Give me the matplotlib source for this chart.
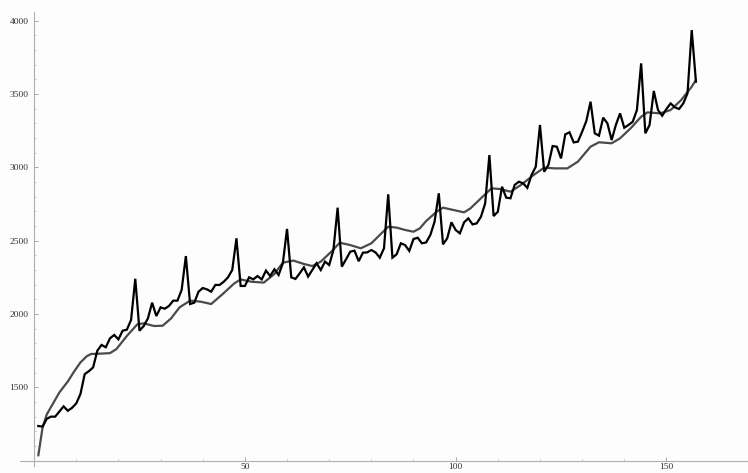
import matplotlib
matplotlib.use("Agg")
import matplotlib.pyplot as plt
from matplotlib.ticker import FixedLocator

# Monthly series (black), index 1..157
series_values = [
    1236, 1232, 1285, 1300, 1300, 1335, 1370, 1340, 1360, 1390, 1455, 1590,
    1610, 1636, 1750, 1789, 1773, 1834, 1857, 1827, 1886, 1893, 1959, 2240,
    1886, 1918, 1970, 2077, 1986, 2045, 2036, 2055, 2091, 2091, 2164, 2395,
    2068, 2077, 2152, 2177, 2168, 2152, 2198, 2198, 2220, 2250, 2300, 2516,
    2191, 2191, 2250, 2236, 2259, 2236, 2296, 2259, 2305, 2266, 2346, 2580,
    2250, 2239, 2277, 2318, 2255, 2300, 2346, 2300, 2357, 2334, 2436, 2725,
    2323, 2373, 2425, 2432, 2360, 2418, 2420, 2436, 2420, 2384, 2448, 2816,
    2384, 2407, 2482, 2470, 2430, 2511, 2520, 2482, 2488, 2539, 2630, 2823,
    2475, 2516, 2625, 2573, 2550, 2625, 2652, 2611, 2618, 2663, 2754, 3084,
    2668, 2697, 2868, 2793, 2789, 2880, 2902, 2891, 2860, 2948, 3004, 3289,
    2970, 3016, 3145, 3141, 3061, 3225, 3239, 3170, 3175, 3243, 3316, 3448,
    3232, 3216, 3339, 3300, 3186, 3289, 3368, 3270, 3289, 3311, 3391, 3709,
    3232, 3289, 3521, 3391, 3352, 3398, 3436, 3409, 3398, 3436, 3505, 3936,
    3584,
]
series_index = list(range(1, len(series_values) + 1))

# Smooth trend (gray), read at its own positions
trend_index = [1, 2, 3, 4.5, 6, 8, 9.5, 11, 12.5, 13.5, 16, 18, 19.5, 22, 24.5,
               26, 28.5, 30.5, 32.5, 34.5, 37, 39.5, 42, 44.5, 47.5, 49, 51.5,
               54.5, 57, 59, 61.5, 64, 66, 68, 70.5, 72.5, 75, 77.5, 80, 82, 84,
               86, 88, 90, 91.5, 93, 95.5, 97, 99.5, 102, 103.5, 106, 108.5,
               110.5, 113, 115.5, 118.5, 121, 123.5, 126.5, 129, 132, 134, 137,
               139, 141.5, 144, 145.5, 148.5, 151, 153.5, 156, 157]
trend_values = [1035, 1225, 1315, 1390, 1465, 1540, 1608, 1670, 1712, 1727,
                1730, 1733, 1760, 1850, 1930, 1936, 1918, 1920, 1970, 2045,
                2091, 2084, 2068, 2130, 2209, 2236, 2220, 2214, 2273, 2350,
                2364, 2341, 2327, 2357, 2425, 2486, 2470, 2448, 2482, 2539,
                2595, 2589, 2573, 2561, 2584, 2634, 2698, 2725, 2709, 2693,
                2720, 2789, 2857, 2852, 2834, 2880, 2948, 2998, 2993, 2993,
                3039, 3141, 3171, 3164, 3198, 3266, 3345, 3375, 3368, 3391,
                3459, 3550, 3596]

y_major = [1500, 2000, 2500, 3000, 3500, 4000]
x_major = [50, 100, 150]

fig = plt.figure(figsize=(7.48, 4.73), dpi=100)
fig.patch.set_facecolor("white")
ax = fig.add_axes([0, 0, 1, 1])
ax.set_facecolor("#fdfdfd")

ax.plot(trend_index, trend_values, color="#4a4a4a", lw=1.6,
        solid_joinstyle="round", solid_capstyle="round", zorder=3)
ax.plot(series_index, series_values, color="black", lw=1.6,
        solid_joinstyle="miter", zorder=4)

ax.set_xlim(-8.09, 169.35)
ax.set_ylim(915.6, 4141.2)

for s in ("top", "right"):
    ax.spines[s].set_visible(False)
ax.spines["left"].set_position(("data", 0))
ax.spines["bottom"].set_position(("data", 1000))
ax.spines["left"].set_bounds(965, 4060)
ax.spines["bottom"].set_bounds(-3.3, 169.35)
for s in ("left", "bottom"):
    ax.spines[s].set_color("#b0b0b0")
    ax.spines[s].set_linewidth(0.8)

ax.yaxis.set_major_locator(FixedLocator(y_major))
ax.xaxis.set_major_locator(FixedLocator(x_major))
ax.yaxis.set_minor_locator(FixedLocator([v for v in range(1100, 4000, 100) if v % 500]))
ax.xaxis.set_minor_locator(FixedLocator([v for v in range(10, 150, 10) if v % 50]))

ax.tick_params(axis="both", which="major", direction="in", length=3,
               width=0.6, color="#999999", labelsize=6.8, labelcolor="#333333")
ax.tick_params(axis="both", which="minor", direction="in", length=1.6,
               width=0.5, color="#aaaaaa")
ax.tick_params(axis="y", which="major", pad=4)
ax.tick_params(axis="x", which="major", pad=2)

for lab in ax.get_xticklabels() + ax.get_yticklabels():
    lab.set_fontfamily("Liberation Serif")

fig.savefig("out.png", dpi=100, facecolor="white")
